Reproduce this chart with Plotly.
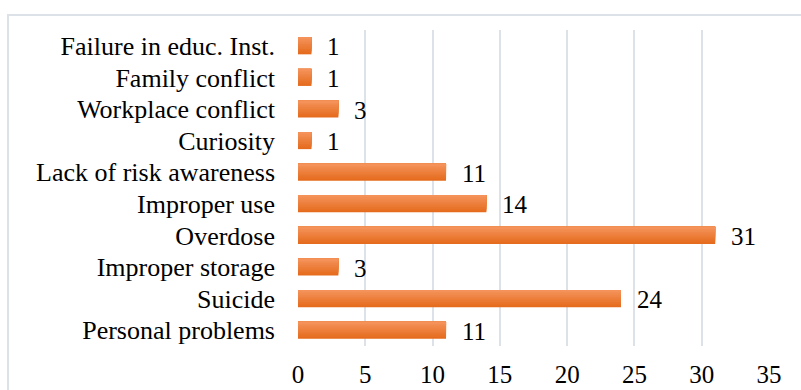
import plotly.graph_objects as go

categories = ["Personal problems", "Suicide", "Improper storage", "Overdose", "Improper use",
              "Lack of risk awareness", "Curiosity", "Workplace conflict", "Family conflict",
              "Failure in educ. Inst."]
values = [11, 24, 3, 31, 14, 11, 1, 3, 1, 1]
x_ticks = [0, 5, 10, 15, 20, 25, 30, 35]

FONT = "Liberation Serif, Times New Roman, serif"
BAR_W = 0.54
N_BANDS = 10
top_rgb = (244, 146, 90)
bot_rgb = (229, 108, 30)

fig = go.Figure()
for i in range(N_BANDS):
    t = i / (N_BANDS - 1)
    c = tuple(round(b + (a - b) * t) for a, b in zip(top_rgb, bot_rgb))
    fig.add_trace(go.Bar(
        y=categories, x=values, orientation="h",
        width=BAR_W - i * BAR_W / N_BANDS,
        offset=-BAR_W / 2 + i * BAR_W / N_BANDS,
        marker=dict(color="rgb(%d,%d,%d)" % c, line=dict(width=0)),
        showlegend=False, hoverinfo="skip",
    ))

for cat, v in zip(categories, values):
    fig.add_annotation(x=v, y=cat, text=str(v), showarrow=False, xanchor="left",
                       xshift=14, yshift=-1, font=dict(family=FONT, size=25, color="black"))

L, R, T, B = 298, 32, 30, 44
W, H = 801, 390
pw, ph = W - L - R, H - T - B
fig.add_shape(type="rect", xref="paper", yref="paper",
              x0=(8 - L) / pw, x1=3,
              y0=-3, y1=1 + (T - 15) / ph,
              line=dict(color="#dde2e9", width=2), fillcolor="rgba(0,0,0,0)", layer="below")

fig.update_layout(
    width=W, height=H, barmode="overlay",
    margin=dict(l=L, r=R, t=T, b=B, autoexpand=False),
    plot_bgcolor="white", paper_bgcolor="white",
    font=dict(family=FONT, size=25, color="black"),
    xaxis=dict(range=[0, 35], tickvals=x_ticks, showgrid=True, gridcolor="#dde2e9",
               gridwidth=2, zeroline=False, showline=False, ticks="", automargin=False,
               ticklabelstandoff=11, tickfont=dict(size=25)),
    yaxis=dict(categoryorder="array", categoryarray=categories, showgrid=False,
               zeroline=False, showline=False, ticks="", ticklabelstandoff=22, automargin=False,
               tickmode="array", tickvals=categories, ticktext=categories,
               tickfont=dict(size=26), range=[-0.5, 9.5]),
)
fig.write_html("out.html")
